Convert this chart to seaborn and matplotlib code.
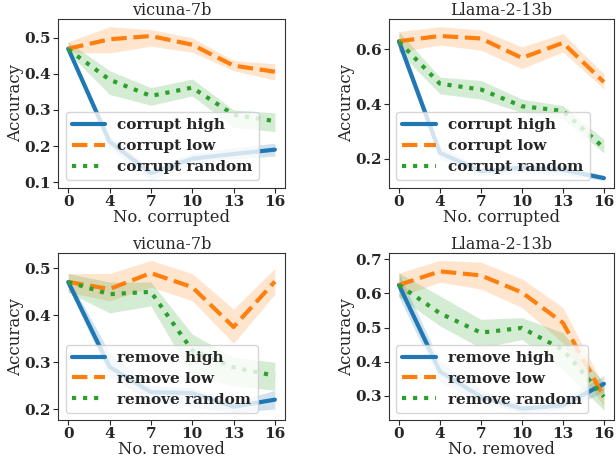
import numpy as np
import pandas as pd
import matplotlib
matplotlib.use("Agg")
import matplotlib.pyplot as plt
import seaborn as sns

sns.set_style("ticks")
plt.rcParams["font.family"] = ["DejaVu Serif"]
plt.rcParams["axes.edgecolor"] = "#333333"

steps = ["0", "4", "7", "10", "13", "16"]
models = ["vicuna-7b", "Llama-2-13b", "vicuna-7b", "Llama-2-13b"]
xlabels = ["No. corrupted", "No. corrupted", "No. removed", "No. removed"]
methods_corrupt = ["corrupt high", "corrupt low", "corrupt random"]
methods_remove = ["remove high", "remove low", "remove random"]

# vicuna-7b, corruption
v_corrupt_high = [0.470, 0.212, 0.125, 0.165, 0.178, 0.190]
v_corrupt_high_lo = [0.460, 0.194, 0.105, 0.150, 0.165, 0.172]
v_corrupt_high_hi = [0.480, 0.227, 0.137, 0.180, 0.195, 0.208]
v_corrupt_low = [0.470, 0.496, 0.505, 0.481, 0.423, 0.406]
v_corrupt_low_lo = [0.459, 0.458, 0.477, 0.460, 0.409, 0.383]
v_corrupt_low_hi = [0.489, 0.531, 0.523, 0.500, 0.437, 0.428]
v_corrupt_rand = [0.468, 0.384, 0.339, 0.362, 0.287, 0.269]
v_corrupt_rand_lo = [0.459, 0.343, 0.313, 0.339, 0.252, 0.240]
v_corrupt_rand_hi = [0.489, 0.409, 0.362, 0.386, 0.300, 0.292]

# Llama-2-13b, corruption
l_corrupt_high = [0.629, 0.222, 0.155, 0.168, 0.160, 0.130]
l_corrupt_high_lo = [0.600, 0.200, 0.140, 0.150, 0.142, 0.122]
l_corrupt_high_hi = [0.650, 0.245, 0.170, 0.185, 0.175, 0.140]
l_corrupt_low = [0.629, 0.648, 0.639, 0.568, 0.623, 0.480]
l_corrupt_low_lo = [0.590, 0.615, 0.596, 0.529, 0.590, 0.455]
l_corrupt_low_hi = [0.664, 0.682, 0.670, 0.608, 0.657, 0.510]
l_corrupt_rand = [0.627, 0.474, 0.453, 0.392, 0.375, 0.240]
l_corrupt_rand_lo = [0.590, 0.437, 0.418, 0.369, 0.345, 0.222]
l_corrupt_rand_hi = [0.664, 0.498, 0.486, 0.418, 0.394, 0.271]

# vicuna-7b, removal
v_remove_high = [0.471, 0.290, 0.236, 0.234, 0.205, 0.220]
v_remove_high_lo = [0.460, 0.270, 0.215, 0.205, 0.192, 0.200]
v_remove_high_hi = [0.480, 0.320, 0.250, 0.245, 0.215, 0.240]
v_remove_low = [0.471, 0.456, 0.490, 0.460, 0.375, 0.472]
v_remove_low_lo = [0.449, 0.431, 0.460, 0.431, 0.340, 0.445]
v_remove_low_hi = [0.489, 0.489, 0.517, 0.489, 0.413, 0.500]
v_remove_rand = [0.471, 0.445, 0.450, 0.325, 0.289, 0.271]
v_remove_rand_lo = [0.449, 0.405, 0.420, 0.270, 0.250, 0.240]
v_remove_rand_hi = [0.489, 0.471, 0.471, 0.360, 0.310, 0.300]

# Llama-2-13b, removal
l_remove_high = [0.625, 0.371, 0.297, 0.262, 0.272, 0.335]
l_remove_high_lo = [0.590, 0.340, 0.280, 0.250, 0.260, 0.310]
l_remove_high_hi = [0.660, 0.400, 0.320, 0.275, 0.290, 0.360]
l_remove_low = [0.625, 0.665, 0.653, 0.603, 0.514, 0.297]
l_remove_low_lo = [0.590, 0.633, 0.613, 0.559, 0.455, 0.267]
l_remove_low_hi = [0.660, 0.697, 0.692, 0.643, 0.559, 0.327]
l_remove_rand = [0.625, 0.542, 0.485, 0.499, 0.435, 0.297]
l_remove_rand_lo = [0.590, 0.505, 0.440, 0.465, 0.376, 0.258]
l_remove_rand_hi = [0.660, 0.593, 0.524, 0.529, 0.485, 0.337]

panels = [
    (methods_corrupt,
     [(v_corrupt_high, v_corrupt_high_lo, v_corrupt_high_hi),
      (v_corrupt_low, v_corrupt_low_lo, v_corrupt_low_hi),
      (v_corrupt_rand, v_corrupt_rand_lo, v_corrupt_rand_hi)]),
    (methods_corrupt,
     [(l_corrupt_high, l_corrupt_high_lo, l_corrupt_high_hi),
      (l_corrupt_low, l_corrupt_low_lo, l_corrupt_low_hi),
      (l_corrupt_rand, l_corrupt_rand_lo, l_corrupt_rand_hi)]),
    (methods_remove,
     [(v_remove_high, v_remove_high_lo, v_remove_high_hi),
      (v_remove_low, v_remove_low_lo, v_remove_low_hi),
      (v_remove_rand, v_remove_rand_lo, v_remove_rand_hi)]),
    (methods_remove,
     [(l_remove_high, l_remove_high_lo, l_remove_high_hi),
      (l_remove_low, l_remove_low_lo, l_remove_low_hi),
      (l_remove_rand, l_remove_rand_lo, l_remove_rand_hi)]),
]

colors = sns.color_palette("tab10")[:3]
linestyles = ["-", "--", ":"]

fig = plt.figure(figsize=(6.16, 4.63), dpi=100)
rects = [
    [0.094, 0.594, 0.369, 0.365],
    [0.631, 0.594, 0.366, 0.365],
    [0.094, 0.092, 0.369, 0.362],
    [0.631, 0.092, 0.366, 0.362],
]

pos = np.arange(len(steps))
for i, (rect, (names, series)) in enumerate(zip(rects, panels)):
    ax = fig.add_axes(rect)
    for name, (mean, lo, hi), c, ls in zip(names, series, colors, linestyles):
        df = pd.DataFrame({"x": pos, "y": mean})
        sns.lineplot(data=df, x="x", y="y", ax=ax, color=c, linestyle=ls,
                     linewidth=3, label=name)
        ax.fill_between(pos, lo, hi, color=c, alpha=0.2, linewidth=0)
    ax.set_xticks(pos)
    ax.set_xticklabels(steps)
    ax.tick_params(axis="both", length=3.5, width=0.8, pad=1.5)
    ax.set_title(models[i], fontsize=11.5, pad=3)
    ax.set_xlabel(xlabels[i], fontsize=11.8, labelpad=0)
    ax.set_ylabel("Accuracy", fontsize=12, labelpad=0)
    for lab in ax.get_xticklabels() + ax.get_yticklabels():
        lab.set_fontweight("bold")
        lab.set_fontsize(11)
    ax.legend(loc="lower left", prop={"weight": "bold", "size": 11},
              framealpha=0.8, borderaxespad=0.5, labelspacing=0.45,
              handlelength=2.2, handletextpad=0.8)

fig.savefig("out.png", dpi=100)
